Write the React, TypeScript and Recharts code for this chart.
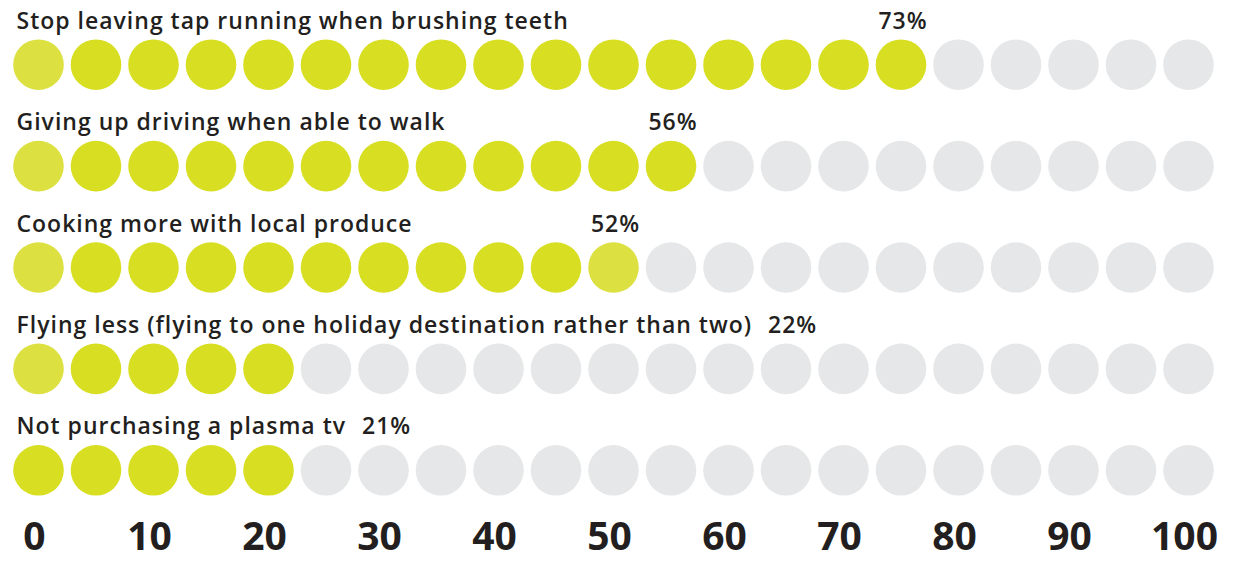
import React from 'react';
import { ScatterChart, Scatter, XAxis, YAxis } from 'recharts';

// ---- data ----
const CATEGORIES = [
  'Stop leaving tap running when brushing teeth',
  'Giving up driving when able to walk',
  'Cooking more with local produce',
  'Flying less (flying to one holiday destination rather than two)',
  'Not purchasing a plasma tv',
];
const PERCENTS = [73, 56, 52, 22, 21];
const DOT_VALUES = [0, 5, 10, 15, 20, 25, 30, 35, 40, 45, 50, 55, 60, 65, 70, 75, 80, 85, 90, 95, 100];
const TICKS = [0, 10, 20, 30, 40, 50, 60, 70, 80, 90, 100];

// ---- style / layout ----
const W = 1238;
const H = 563;
const LEFT = 38.5;
const RIGHT = 49.5;
const TOP = 64.7;
const PLOT_BOTTOM = 470.3;
const XAXIS_H = 60;
const R = 25.3;
const YELLOW = '#d8df22';
const YELLOW_LIGHT = '#dce141';
const GREY = '#e6e7e8';
const TEXT = '#231f20';
const FONT = '"Open Sans", sans-serif';
const LABEL_SIZE = 23;
const LABEL_WEIGHT = 600;
const LABEL_SPACING = 1.0;
const LIGHT_DOTS: Record<number, number[]> = { 0: [0], 1: [0], 2: [0, 10], 3: [0] };

let ctx: CanvasRenderingContext2D | null = null;
function measure(text: string): number {
  if (!ctx) {
    const c = document.createElement('canvas');
    ctx = c.getContext('2d');
  }
  if (!ctx) return text.length * LABEL_SIZE * 0.55;
  ctx.font = `${LABEL_WEIGHT} ${LABEL_SIZE}px "Open Sans"`;
  return ctx.measureText(text).width + LABEL_SPACING * text.length;
}

const nearest5 = (p: number) => Math.round(p / 5) * 5;

const dots = CATEGORIES.flatMap((_, r) =>
  DOT_VALUES.map((v, i) => ({
    x: v,
    row: r,
    filled: v <= nearest5(PERCENTS[r]),
    light: (LIGHT_DOTS[r] || []).includes(i),
  }))
);

const labels = CATEGORIES.map((label, r) => ({ x: 0, row: r, label }));
const pctPoints = CATEGORIES.map((label, r) => ({
  x: nearest5(PERCENTS[r]),
  row: r,
  label,
  pct: PERCENTS[r],
}));

const LABEL_DX = -22;
const LABEL_DY = -36;

const DotShape = (props: any) => {
  const { cx, cy, payload } = props;
  const fill = payload.filled ? (payload.light ? YELLOW_LIGHT : YELLOW) : GREY;
  return <circle cx={cx} cy={cy} r={R} fill={fill} />;
};

const LabelShape = (props: any) => {
  const { cx, cy, payload } = props;
  return (
    <text
      x={cx + LABEL_DX}
      y={cy + LABEL_DY}
      fontFamily={FONT}
      fontWeight={LABEL_WEIGHT}
      fontSize={LABEL_SIZE}
      letterSpacing={LABEL_SPACING}
      fill={TEXT}
    >
      {payload.label}
    </text>
  );
};

const PctShape = (props: any) => {
  const { cx, cy, payload } = props;
  const text = `${payload.pct}%`;
  const labelStart = LEFT + LABEL_DX;
  const labelEnd = labelStart + measure(payload.label);
  const pctW = measure(text);
  const inlineX = labelEnd + 16 + pctW / 2;
  const x = Math.max(cx + 2, inlineX);
  return (
    <text
      x={x}
      y={cy + LABEL_DY}
      textAnchor="middle"
      fontFamily={FONT}
      fontWeight={LABEL_WEIGHT}
      fontSize={LABEL_SIZE}
      letterSpacing={LABEL_SPACING}
      fill={TEXT}
    >
      {text}
    </text>
  );
};

const AxisTick = (props: any) => {
  const { x, y, payload } = props;
  return (
    <text
      x={x - 4}
      y={y + 80}
      textAnchor="middle"
      fontFamily={FONT}
      fontWeight={700}
      fontSize={39}
      fill={TEXT}
    >
      {payload.value}
    </text>
  );
};

export default function App() {
  return (
    <div style={{ position: 'absolute', left: 0, top: 0, width: W, height: H, background: '#fff' }}>
      <ScatterChart
        width={W}
        height={H}
        margin={{ top: TOP, right: RIGHT, left: LEFT, bottom: H - PLOT_BOTTOM - XAXIS_H }}
      >
        <XAxis
          type="number"
          dataKey="x"
          domain={[0, 100]}
          ticks={TICKS}
          interval={0}
          axisLine={false}
          tickLine={false}
          tickSize={0}
          tickMargin={0}
          height={XAXIS_H}
          tick={<AxisTick />}
        />
        <YAxis type="number" dataKey="row" domain={[0, 4]} reversed hide width={0} />
        <Scatter data={dots} shape={<DotShape />} isAnimationActive={false} />
        <Scatter data={labels} shape={<LabelShape />} isAnimationActive={false} />
        <Scatter data={pctPoints} shape={<PctShape />} isAnimationActive={false} />
      </ScatterChart>
    </div>
  );
}
